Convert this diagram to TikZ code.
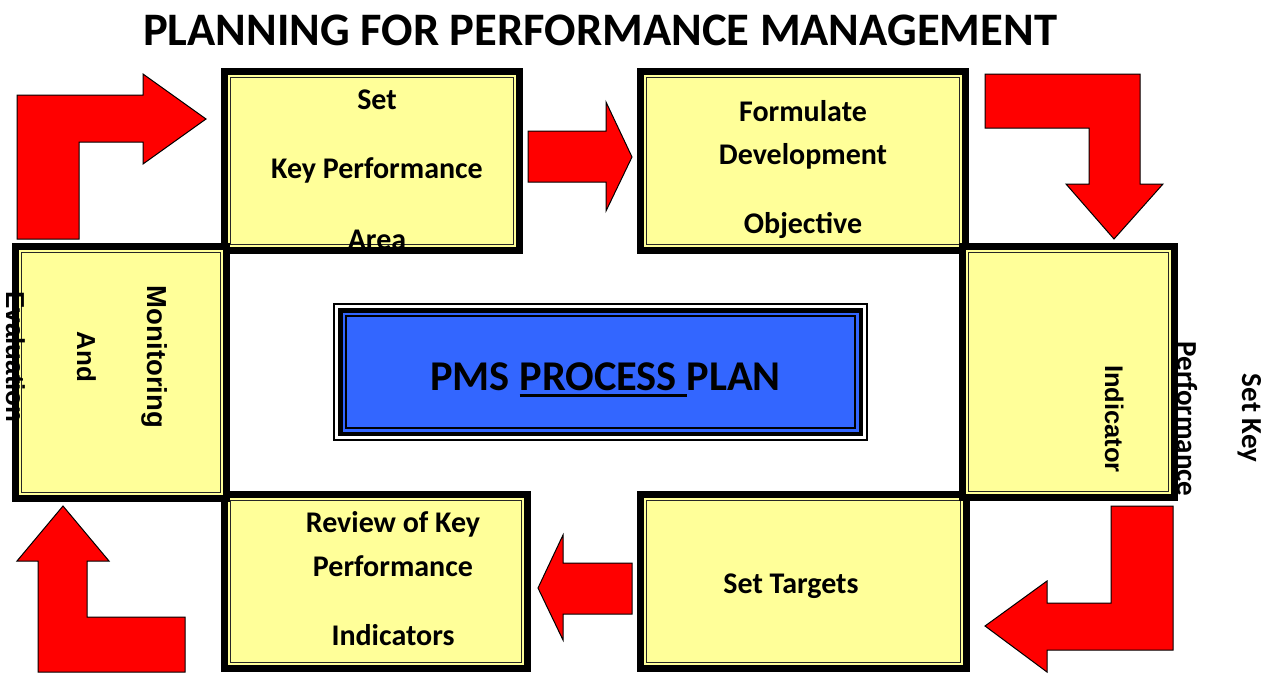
\documentclass[tikz,border=0pt]{standalone}
\usepackage{fontspec}
\setmainfont{Carlito}
\newfontfamily\arialf{Liberation Sans}
\definecolor{boxyellow}{HTML}{FFFF99}
\definecolor{pmsblue}{HTML}{3366FF}
\definecolor{arrowred}{HTML}{FF0000}
\newcommand\myul[1]{\setbox0\hbox{#1}\rlap{\rule[-7pt]{\wd0}{3.5pt}}\box0}
\begin{document}
\begin{tikzpicture}[x=1pt,y=-1pt,
  ybox/.style={draw=black, line width=7pt, fill=boxyellow, inner sep=0pt, outer sep=0pt,
    path picture={\draw[line width=1.3pt, black!85]
      ([xshift=6pt,yshift=-6pt]path picture bounding box.north west) rectangle
      ([xshift=-6pt,yshift=6pt]path picture bounding box.south east);}},
  btxt/.style={anchor=base, inner sep=0pt, font=\bfseries\fontsize{30}{36}\selectfont},
  rtxt/.style={anchor=base, inner sep=0pt, rotate=-90, font=\arialf\bfseries\fontsize{26}{31}\selectfont},
  blockarrow/.style={fill=arrowred, draw=black, line width=1pt, line join=miter}]
\useasboundingbox (0,0) rectangle (1277,673);
\fill[white] (0,0) rectangle (1277,673);

% title
\node[anchor=base, inner sep=0pt, font=\bfseries\fontsize{46.6}{56}\selectfont] (title) at (600,45) {PLANNING FOR PERFORMANCE MANAGEMENT};

% horizontal boxes
\node[ybox, minimum width=295, minimum height=179] (kpa) at (372,161) {};
\node[ybox, minimum width=325, minimum height=179] (form) at (803,161) {};
\node[ybox, minimum width=303, minimum height=174] (rev) at (376,581.5) {};
\node[ybox, minimum width=326, minimum height=174] (tgt) at (803.5,581.5) {};
% vertical boxes
\node[ybox, minimum width=211, minimum height=252] (mon) at (121,372.5) {};
\node[ybox, minimum width=212, minimum height=251] (ind) at (1068.5,372) {};

% texts of boxes
\node[btxt] (kpa1) at (377,109) {Set};
\node[btxt] (kpa2) at (377,178) {Key Performance};
\node[btxt] (kpa3) at (377,249) {Area};
\node[btxt] (form1) at (803,121) {Formulate};
\node[btxt] (form2) at (803,164) {Development};
\node[btxt] (form3) at (803,233) {Objective};
\node[btxt] (rev1) at (393,532) {Review of Key};
\node[btxt] (rev2) at (393,576) {Performance};
\node[btxt] (rev3) at (393,645) {Indicators};
\node[btxt] (tgt1) at (791,593) {Set Targets};

\node[rtxt, font=\arialf\bfseries\fontsize{27.5}{33}\selectfont] (mon1) at (147,357) {Monitoring};
\node[rtxt] (mon2) at (77,357) {And};
\node[rtxt] (mon3) at (6,357) {Evaluation};
\node[rtxt, font=\arialf\bfseries\fontsize{25.5}{31}\selectfont] (ind1) at (1105,419) {Indicator};
\node[rtxt, font=\bfseries\fontsize{29}{35}\selectfont] (ind2) at (1177,419) {Performance};
\node[rtxt, font=\bfseries\fontsize{29}{35}\selectfont] (ind3) at (1242,418) {Set Key};

% central box
\node[draw=black, line width=2pt, minimum width=533, minimum height=136, inner sep=0pt, outer sep=0pt] (pms) at (600.5,372) {};
\fill[black] ([xshift=4pt,yshift=-4pt]pms.north west) rectangle ([xshift=-4pt,yshift=4pt]pms.south east);
\fill[pmsblue] ([xshift=8.5pt,yshift=-8.5pt]pms.north west) rectangle ([xshift=-8.5pt,yshift=8.5pt]pms.south east);
\draw[line width=1.3pt] ([xshift=12pt,yshift=-12pt]pms.north west) rectangle ([xshift=-12pt,yshift=12pt]pms.south east);
\node[anchor=base, inner sep=0pt, font=\bfseries\fontsize{42.4}{50}\selectfont] (pmstext) at (605.5,390) {PMS \myul{PROCESS }PLAN};

% block arrows
\draw[blockarrow] (17,239) -- (17,95) -- (143,95) -- (143,74) -- (206,119) -- (143,164) -- (143,142) -- (79,142) -- (79,239) -- cycle;
\draw[blockarrow] (528,131) -- (606,131) -- (606,102) -- (632,157) -- (606,211) -- (606,182) -- (528,182) -- cycle;
\draw[blockarrow] (985,74) -- (1140,74) -- (1140,184) -- (1163,184) -- (1114,239) -- (1066,184) -- (1089,184) -- (1089,128) -- (985,128) -- cycle;
\draw[blockarrow] (1111,506) -- (1173,506) -- (1173,650) -- (1047,650) -- (1047,672) -- (985,626) -- (1047,581) -- (1047,603) -- (1111,603) -- cycle;
\draw[blockarrow] (632,563) -- (632,614) -- (563,614) -- (563,640) -- (538,588) -- (563,535) -- (563,563) -- cycle;
\draw[blockarrow] (38,672) -- (38,561) -- (17,561) -- (63,506) -- (109,561) -- (87,561) -- (87,617) -- (185,617) -- (185,672) -- cycle;
\end{tikzpicture}
\end{document}
